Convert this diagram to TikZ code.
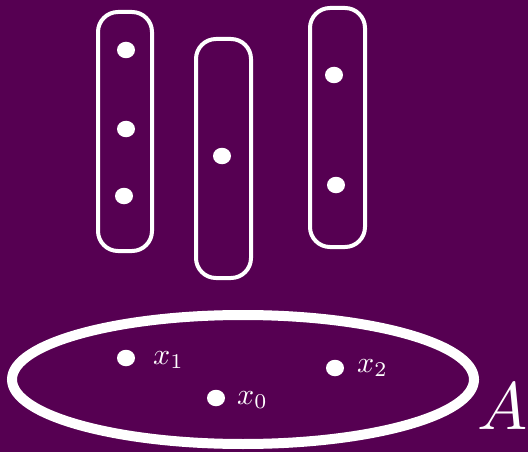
\documentclass[tikz,border=0pt]{standalone}
\usetikzlibrary{shapes.geometric}
\definecolor{bgpurple}{RGB}{86,0,82}
\tikzset{
  dot/.style={ellipse,fill=white,draw=none,minimum width=18pt,minimum height=16.5pt,inner sep=0pt},
  setbox/.style={rectangle,rounded corners=20pt,draw=white,line width=4pt,inner sep=0pt},
  bigset/.style={ellipse,draw=white,line width=10pt,inner sep=0pt},
  lab/.style={text=white,inner sep=0pt,anchor=base west},
}
\begin{document}
\begin{tikzpicture}[x=1pt,y=-1pt]
\fill[bgpurple] (0,0) rectangle (528,452);
\useasboundingbox (0,0) rectangle (528,452);
% upper sets
\node[setbox,minimum width=54pt,minimum height=239pt] (b1) at (125,131.5) {};
\node[setbox,minimum width=55pt,minimum height=239pt] (b2) at (223.5,158.5) {};
\node[setbox,minimum width=55pt,minimum height=239pt] (b3) at (337.5,127.5) {};
\node[dot] (d11) at (126,50) {};
\node[dot] (d12) at (126,129) {};
\node[dot] (d13) at (124,196) {};
\node[dot] (d21) at (222,156) {};
\node[dot] (d31) at (334,75) {};
\node[dot] (d32) at (336,185) {};
% set A
\node[bigset,minimum width=462pt,minimum height=129pt] (A) at (243,379.5) {};
\node[dot] (x1) at (126,358) {};
\node[dot] (x2) at (335,368) {};
\node[dot] (x0) at (216,398) {};
\node[lab] (lx1) at (153,364) {\scalebox{3}{$x_1$}};
\node[lab] (lx2) at (357,372) {\scalebox{3}{$x_2$}};
\node[lab] (lx0) at (237,404) {\scalebox{3}{$x_0$}};
\node[lab] (lA) at (477,429) {\scalebox{6.7}{$A$}};
\end{tikzpicture}
\end{document}
